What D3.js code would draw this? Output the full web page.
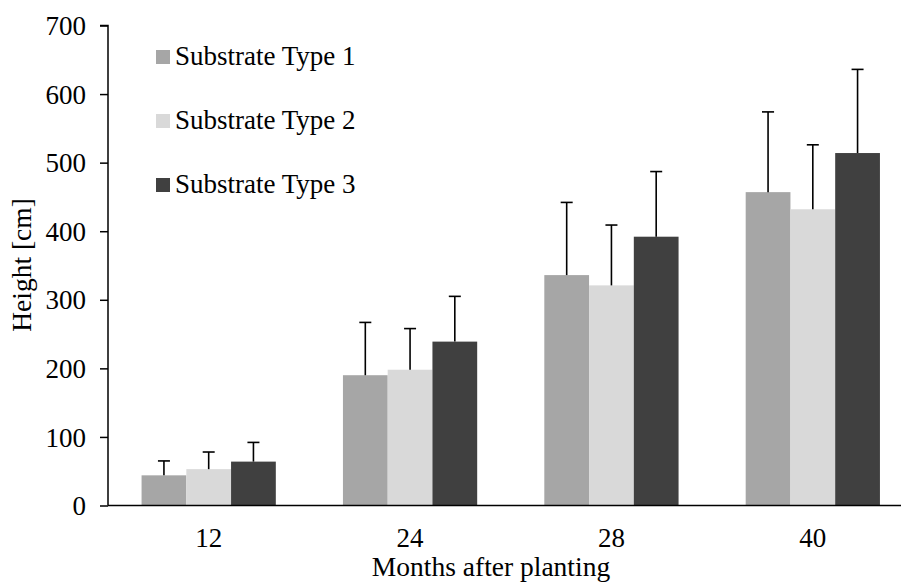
<!DOCTYPE html>
<html>
<head>
<meta charset="utf-8">
<script src="https://cdn.jsdelivr.net/npm/d3@7"></script>
<style>
  html, body { margin: 0; padding: 0; background: #fff; }
  svg { display: block; }
  text { font-family: "Liberation Serif", "Times New Roman", serif; fill: #000; }
</style>
</head>
<body>
<svg id="chart" width="901" height="585"></svg>
<script>
const categories = ["12", "24", "28", "40"];
const seriesNames = ["Substrate Type 1", "Substrate Type 2", "Substrate Type 3"];
const type1 = [44, 190, 336, 457];
const type2 = [53, 198, 321, 432];
const type3 = [64, 239, 392, 514];
const err1 = [21, 77, 106, 117];
const err2 = [25, 60, 88, 94];
const err3 = [28, 66, 95, 122];
const yTicks = [0, 100, 200, 300, 400, 500, 600, 700];
const colors = ["#a6a6a6", "#d9d9d9", "#404040"];

(function () {
const values = [type1, type2, type3];
const errors = [err1, err2, err3];

const svg = d3.select("#chart");
const mLeft = 108, mRight = 913.5, mTop = 25.5, mBottom = 505.5;
const fs = "27px";

const y = d3.scaleLinear().domain([0, 700]).range([mBottom, mTop]);
const x0 = d3.scaleBand().domain(categories).range([mLeft, mRight]).paddingInner(0).paddingOuter(0);
const step = x0.bandwidth();
const barW = step / 4.5;
const x1 = d3.scaleBand().domain(d3.range(3)).range([barW * 0.75, step - barW * 0.75]).padding(0);

const rows = [];
categories.forEach((c, i) => {
  values.forEach((s, j) => rows.push({cat: c, s: j, v: s[i], e: errors[j][i]}));
});

// bars
svg.append("g").selectAll("rect").data(rows).join("rect")
  .attr("x", d => x0(d.cat) + x1(d.s))
  .attr("y", d => y(d.v))
  .attr("width", x1.bandwidth())
  .attr("height", d => y(0) - y(d.v))
  .attr("fill", d => colors[d.s]);

// error bars
const eg = svg.append("g").attr("stroke", "#000").attr("stroke-width", 1.6);
rows.forEach(d => {
  const cx = x0(d.cat) + x1(d.s) + x1.bandwidth() / 2;
  eg.append("line").attr("x1", cx).attr("x2", cx).attr("y1", y(d.v)).attr("y2", y(d.v + d.e));
  eg.append("line").attr("x1", cx - 6).attr("x2", cx + 6).attr("y1", y(d.v + d.e)).attr("y2", y(d.v + d.e));
});

// y axis
const yAxis = d3.axisLeft(y).tickValues(yTicks).tickSize(8).tickPadding(14).tickFormat(d3.format("d"));
const gy = svg.append("g").attr("transform", `translate(${mLeft},0)`).call(yAxis);
gy.select(".domain").attr("stroke", "#000").attr("stroke-width", 1.5).attr("d", `M-8,${mTop}H0V${mBottom}`);
gy.selectAll(".tick line").attr("stroke", "#000").attr("stroke-width", 1.5);
gy.selectAll(".tick text").style("font-family", "Liberation Serif, serif").style("font-size", fs).attr("fill", "#000").attr("dy", "0.34em");

// x axis
const xAxis = d3.axisBottom(x0).tickSize(0).tickPadding(22);
const gx = svg.append("g").attr("transform", `translate(0,${mBottom})`).call(xAxis);
gx.select(".domain").attr("stroke", "#000").attr("stroke-width", 1.5).attr("d", `M${mLeft},0H901`);
gx.selectAll(".tick text").style("font-family", "Liberation Serif, serif").style("font-size", fs).attr("fill", "#000");

// axis titles
svg.append("text").attr("x", 491).attr("y", 576).attr("text-anchor", "middle")
  .style("font-size", "27.5px").text("Months after planting");
svg.append("text").attr("transform", "translate(31,265) rotate(-90)").attr("text-anchor", "middle")
  .style("font-size", "27.5px").text("Height [cm]");

// legend
const lg = svg.append("g");
seriesNames.forEach((n, i) => {
  const cy = 57 + i * 64;
  lg.append("rect").attr("x", 156).attr("y", cy - 7).attr("width", 14).attr("height", 14).attr("fill", colors[i]);
  lg.append("text").attr("x", 175).attr("y", cy + 8).style("font-size", fs).text(n);
});
})();
</script>
</body>
</html>
